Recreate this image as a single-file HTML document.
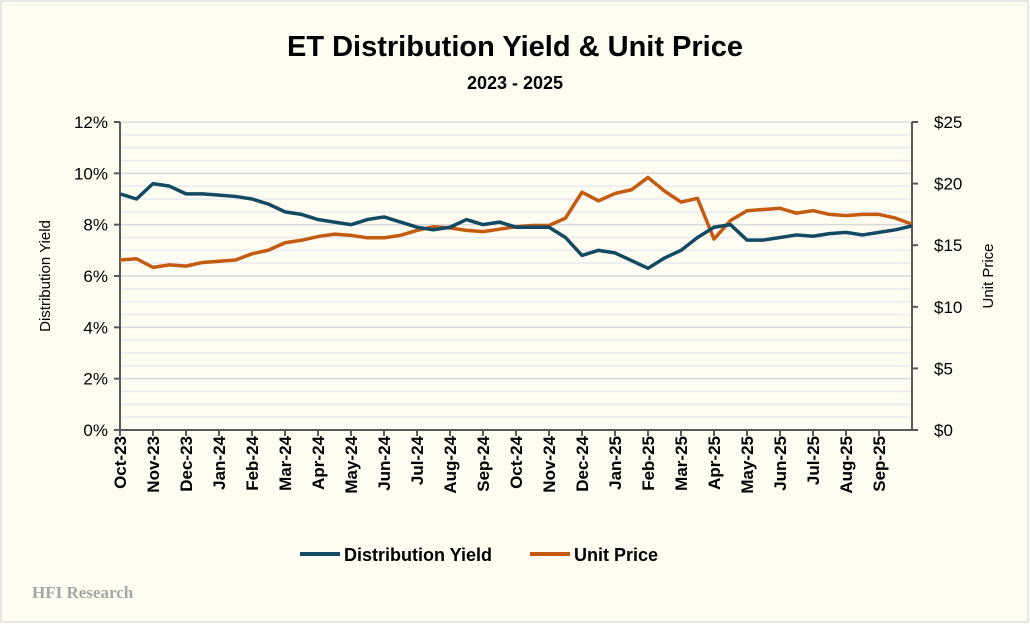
<!DOCTYPE html>
<html><head><meta charset="utf-8"><style>
body{margin:0;background:#fff;}
svg text{font-family:"Liberation Sans",sans-serif;}
</style></head><body>
<svg width="1030" height="624" xmlns="http://www.w3.org/2000/svg">
<rect x="1" y="1" width="1027" height="621" fill="#fffdf2" stroke="#d0d0d0"/>
<text x="515" y="56" text-anchor="middle" font-size="29" font-weight="bold" fill="#000">ET Distribution Yield &amp; Unit Price</text>
<text x="515" y="89" text-anchor="middle" font-size="18" font-weight="bold" fill="#000">2023 - 2025</text>
<g id="grid"></g>
<g id="axes"></g>
<g id="series"></g>
<text transform="translate(50,276) rotate(-90)" text-anchor="middle" font-size="15" fill="#000">Distribution Yield</text>
<text transform="translate(993,276) rotate(-90)" text-anchor="middle" font-size="15" fill="#000">Unit Price</text>
<g>
<line x1="300" y1="554" x2="340" y2="554" stroke="#134a63" stroke-width="4"/>
<text x="344" y="561" font-size="18" font-weight="bold">Distribution Yield</text>
<line x1="530" y1="554" x2="570" y2="554" stroke="#c55a11" stroke-width="4"/>
<text x="574" y="561" font-size="18" font-weight="bold">Unit Price</text>
</g>
<text x="32" y="598" font-size="17" font-weight="bold" fill="#a6a6a6" style="font-family:'Liberation Serif',serif">HFI Research</text>
</svg>
<script>
const months=["Oct-23","Nov-23","Dec-23","Jan-24","Feb-24","Mar-24","Apr-24","May-24","Jun-24","Jul-24","Aug-24","Sep-24","Oct-24","Nov-24","Dec-24","Jan-25","Feb-25","Mar-25","Apr-25","May-25","Jun-25","Jul-25","Aug-25","Sep-25"];
const yieldTicks=[0,2,4,6,8,10,12];
const priceTicks=[0,5,10,15,20,25];
const yieldVals=[9.2,9.0,9.6,9.5,9.2,9.2,9.15,9.1,9.0,8.8,8.5,8.4,8.2,8.1,8.0,8.2,8.3,8.1,7.9,7.8,7.9,8.2,8.0,8.1,7.9,7.9,7.9,7.5,6.8,7.0,6.9,6.6,6.3,6.7,7.0,7.5,7.9,8.0,7.4,7.4,7.5,7.6,7.55,7.65,7.7,7.6,7.7,7.8,7.95];
const priceVals=[13.8,13.9,13.2,13.4,13.3,13.6,13.7,13.8,14.3,14.6,15.2,15.4,15.7,15.9,15.8,15.6,15.6,15.8,16.2,16.5,16.4,16.2,16.1,16.3,16.5,16.6,16.6,17.2,19.3,18.6,19.2,19.5,20.5,19.4,18.5,18.8,15.5,17.0,17.8,17.9,18.0,17.6,17.8,17.5,17.4,17.5,17.5,17.2,16.7];
const X0=120,X1=912,Y0=430,Y1=122,MW=33;
const xAt=i=>X0+i*(X1-X0)/(yieldVals.length-1);
const yY=v=>Y0-(v/12)*(Y0-Y1);
const yP=v=>Y0-(v/25)*(Y0-Y1);
const NS="http://www.w3.org/2000/svg";
function mk(t,a,p){const e=document.createElementNS(NS,t);for(const k in a)e.setAttribute(k,a[k]);p.appendChild(e);return e;}
const grid=document.getElementById('grid'),axes=document.getElementById('axes'),ser=document.getElementById('series');
for(let v=0.5;v<12;v+=0.5){if(v%2===0)continue;const l=mk('line',{x1:X0,x2:X1,y1:yY(v),y2:yY(v),stroke:'#eceef2','stroke-width':2},grid);

}
yieldTicks.forEach(v=>{if(v===0)return;const l=mk('line',{x1:X0,x2:X1,y1:yY(v),y2:yY(v),stroke:'#d9d9d9','stroke-width':1.5},grid);

});
mk('line',{x1:X0,x2:X0,y1:Y1,y2:Y0,stroke:'#595959','stroke-width':2},axes);
mk('line',{x1:X1,x2:X1,y1:Y1,y2:Y0,stroke:'#595959','stroke-width':2},axes);
mk('line',{x1:X0,x2:X1,y1:Y0,y2:Y0,stroke:'#595959','stroke-width':2},axes);
yieldTicks.forEach(v=>{mk('line',{x1:X0-6,x2:X0,y1:yY(v),y2:yY(v),stroke:'#595959','stroke-width':2},axes);
const t=mk('text',{x:X0-12,y:yY(v)+6,'text-anchor':'end','font-size':17},axes);t.textContent=v+'%';

});
priceTicks.forEach(v=>{mk('line',{x1:X1,x2:X1+6,y1:yP(v),y2:yP(v),stroke:'#595959','stroke-width':2},axes);
const t=mk('text',{x:X1+22,y:yP(v)+6,'font-size':17},axes);t.textContent='$'+v;

});
months.forEach((m,i)=>{const x=X0+i*MW;mk('line',{x1:x,x2:x,y1:Y0,y2:Y0+6,stroke:'#595959','stroke-width':2},axes);
const t=mk('text',{transform:`translate(${x+6},${Y0+6}) rotate(-90)`,'text-anchor':'end','font-size':17,'font-weight':'bold'},axes);t.textContent=m;

});
const pl=mk('polyline',{points:priceVals.map((v,i)=>xAt(i)+','+yP(v)).join(' '),fill:'none',stroke:'#c55a11','stroke-width':3.5,'stroke-linejoin':'round'},ser);


const yl=mk('polyline',{points:yieldVals.map((v,i)=>xAt(i)+','+yY(v)).join(' '),fill:'none',stroke:'#134a63','stroke-width':3.5,'stroke-linejoin':'round'},ser);


</script>
</body></html>
